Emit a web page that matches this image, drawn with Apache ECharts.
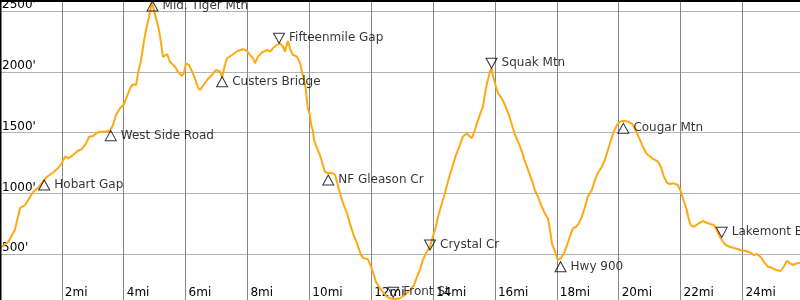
<!DOCTYPE html>
<html>
<head>
<meta charset="utf-8">
<script src="https://cdn.jsdelivr.net/npm/echarts@6/dist/echarts.min.js"></script>
<style>html,body{margin:0;padding:0;background:#fff}#c{width:800px;height:300px}</style>
</head>
<body>
<div id="c"></div>
<script>
// Profile: distance (miles) and elevation (feet)
const miles = [0.00,0.27,0.48,0.65,0.81,0.97,1.07,1.23,1.36,1.52,1.71,1.87,2.00,2.10,2.23,2.36,2.52,2.65,2.78,2.88,3.01,3.14,3.23,3.39,3.56,3.65,3.75,3.88,4.01,4.10,4.23,4.30,4.40,4.46,4.56,4.65,4.75,4.82,4.91,5.04,5.14,5.20,5.27,
5.40,5.49,5.66,5.75,5.88,5.95,6.01,6.11,6.21,6.30,6.40,6.46,6.56,6.69,6.85,6.98,7.11,7.18,7.27,7.34,7.50,7.69,7.85,7.98,8.08,8.18,8.24,8.34,8.47,8.63,8.73,8.82,8.95,9.05,9.15,9.21,9.28,9.31,9.37,9.47,9.60,9.70,9.76,9.83,9.89,9.92,9.95,10.02,10.05,10.12,10.15,10.25,10.34,
10.50,10.60,10.73,10.83,10.89,10.99,11.09,11.22,11.31,11.41,11.54,11.67,11.76,11.89,11.99,12.09,12.15,12.28,12.41,12.51,12.60,12.77,12.93,13.09,13.25,13.38,13.48,13.57,13.67,13.77,13.90,13.99,14.09,14.16,14.25,14.35,14.45,14.54,14.64,14.74,14.87,14.96,15.09,15.25,15.35,15.42,15.51,
15.61,15.68,15.74,15.84,15.89,15.93,16.00,16.10,16.22,16.32,16.45,16.55,16.65,16.77,16.87,16.97,17.07,17.19,17.29,17.39,17.49,17.61,17.71,17.78,17.84,17.94,18.03,18.13,18.23,18.33,18.42,18.52,18.62,18.71,18.81,18.91,19.00,19.13,19.23,19.33,19.46,19.55,19.65,19.75,19.84,19.94,20.04,20.17,20.30,20.43,20.52,20.62,
20.78,20.91,21.04,21.17,21.27,21.36,21.46,21.56,21.65,21.78,21.91,22.01,22.11,22.20,22.27,22.33,22.43,22.56,22.72,22.85,22.98,23.08,23.17,23.27,23.37,23.46,23.59,23.76,23.92,24.08,24.24,24.37,24.47,24.60,24.69,24.82,24.95,25.08,25.24,25.34,25.44,25.53,25.63,25.76,25.86];
const elevation = [552,604,700,881,906,972,1013,1046,1089,1138,1171,1208,1251,1303,1292,1317,1352,1366,1413,1467,1473,1500,1508,1508,1517,1563,1646,1701,1734,1796,1878,1898,1892,1988,2098,2248,2385,2454,2575,2443,2344,2246,2122,
2147,2084,2043,2002,1966,1993,2071,2057,2002,1947,1873,1851,1884,1933,1974,2016,2002,1956,2057,2112,2139,2174,2186,2174,2139,2112,2071,2125,2161,2180,2166,2194,2221,2235,2207,2166,2235,2254,2194,2139,2125,2071,2002,1933,1851,1769,1701,1646,1577,1508,1440,1372,1317,
1180,1166,1171,1152,1097,1002,920,838,755,673,591,495,468,460,399,330,275,221,180,152,139,133,139,166,207,248,316,372,454,509,563,645,727,810,892,974,1070,1152,1235,1317,1399,1467,1495,1454,1522,1577,1646,
1714,1824,1906,2002,2030,1974,1906,1824,1783,1728,1646,1563,1481,1413,1344,1262,1194,1111,1029,974,906,838,797,700,591,522,454,468,509,577,645,714,727,755,810,892,974,1029,1111,1171,1221,1276,1358,1440,1508,1563,1591,1599,1591,1572,1536,1481,
1385,1325,1298,1276,1262,1221,1138,1089,1078,1084,1070,1015,933,865,783,741,727,750,774,760,747,741,700,645,604,577,563,550,536,530,517,495,503,476,440,399,390,372,363,399,448,427,413,427,432];

// Waypoints
const wpNames = ['Hobart Gap','West Side Road','Mid. Tiger Mtn','Custers Bridge','Fifteenmile Gap','NF Gleason Cr','Front St','Crystal Cr','Squak Mtn','Hwy 900','Cougar Mtn','Lakemont Blvd'];
const wpMiles = [1.43,3.58,4.93,7.18,9.02,10.61,12.71,13.90,15.89,18.12,20.15,23.33];
const wpElev  = [1111,1517,2583,1960,2235,1152,147,536,2030,440,1577,640];
const wpDir   = ['up','up','up','up','down','up','down','down','down','up','up','down'];

// Axis ticks
const xTickStep = 2;   // miles
const yTickStep = 500; // feet
const xMax = 25.86;
const yMax = 2591;

const chart = echarts.init(document.getElementById('c'), null, {renderer:'canvas'});
const lineData = miles.map((m,i)=>[m, elevation[i]]);
const wpData = wpNames.map((n,i)=>({
  name:n,
  value:[wpMiles[i], wpElev[i]],
  symbolRotate: wpDir[i]==='up' ? 0 : 180,
  symbolOffset: wpDir[i]==='up' ? [0,5] : [0,-5]
}));
const font = 'DejaVu Sans';
chart.setOption({
  animation:false,
  textStyle:{fontFamily:font},
  grid:{left:0,width:800,top:0,height:315.2,containLabel:false,outerBoundsMode:'none'},
  xAxis:{
    type:'value', min:0, max:xMax, interval:xTickStep,
    offset: -15.2,
    axisLine:{show:false}, axisTick:{show:false},
    splitLine:{show:true, lineStyle:{color:'#858585', width:1}},
    axisLabel:{inside:true, margin:1, align:'left', verticalAlign:'bottom', padding:[0,0,0,3],
      color:'#000', fontSize:12, fontFamily:font,
      formatter:v=> (v>0 && Math.abs(v/xTickStep - Math.round(v/xTickStep))<1e-6) ? v+'mi' : ''}
  },
  yAxis:{
    type:'value', min:0, max:yMax, interval:yTickStep,
    axisLine:{show:false}, axisTick:{show:false},
    splitLine:{show:true, lineStyle:{color:'#b4b4b4', width:1}},
    axisLabel:{inside:true, margin:2, align:'left', verticalAlign:'bottom',
      color:'#000', fontSize:12, fontFamily:font,
      formatter:v=> (v>0 && v%yTickStep===0) ? v+"'" : ''}
  },
  series:[
    {type:'line', data:lineData, showSymbol:false, symbol:'none',
     lineStyle:{color:'#ffa812', width:2}, z:2},
    {type:'scatter', data:wpData, symbol:'triangle', symbolSize:[11,10],
     itemStyle:{color:'rgba(0,0,0,0)', borderColor:'#000', borderWidth:1},
     label:{show:true, position:'right', distance:4, formatter:'{b}', color:'#000', fontSize:12, fontFamily:font},
     z:3}
  ],
  graphic:[
    {type:'rect', shape:{x:0,y:0,width:800,height:2}, style:{fill:'#000'}, z:10},
    {type:'rect', shape:{x:0,y:0,width:1.5,height:300}, style:{fill:'#000'}, z:10}
  ]
});
</script>
</body>
</html>
